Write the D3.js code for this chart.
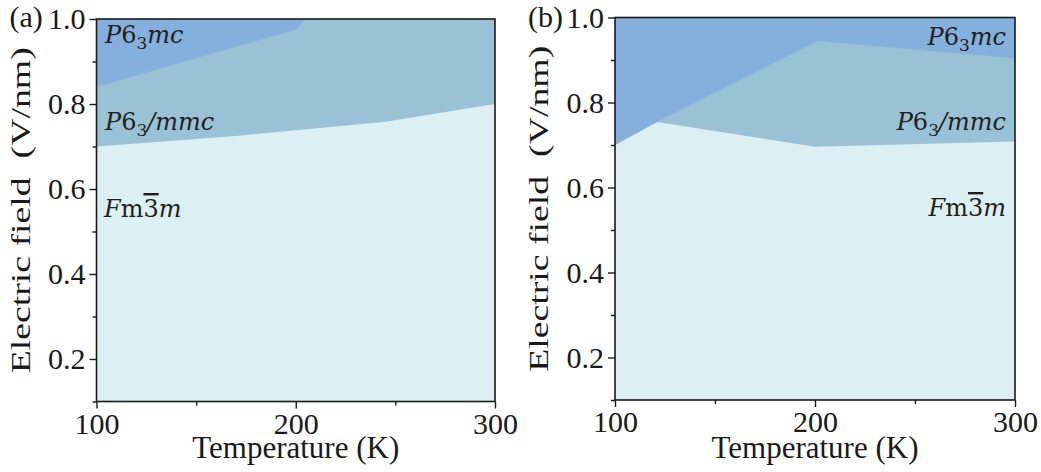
<!DOCTYPE html>
<html lang="en">
<head>
    <title>Phase diagram</title>
    <script src="https://d3js.org/d3.v7.min.js"></script>
    <style>
        body { margin: 0; background: #fff; }
        svg { display: block; }
        .tick text { font-family: "Liberation Serif", "Times New Roman", serif; font-size: 30px; fill: #1a1a1a; }
        .tick line { stroke: #1a1a1a; stroke-width: 1.4; }
        .axis-title { font-family: "Liberation Serif", "Times New Roman", serif; fill: #1a1a1a; }
        .phase { font-family: "DejaVu Serif", serif; font-size: 24px; fill: #231f20; }
    </style>
</head>
<body>
<svg id="chart" width="1041" height="472"></svg>
<script>
// axis ticks
const tempMajor = [100, 200, 300];
const tempMinor = [150, 250];
const fieldMajor = [0.2, 0.4, 0.6, 0.8, 1.0];
const fieldMinor = [0.1, 0.3, 0.5, 0.7, 0.9];

// panel (a) phase boundaries
const aLowT = [100, 170, 245, 300];
const aLowE = [0.70, 0.725, 0.758, 0.80];
const aUpT = [100, 200, 205];
const aUpE = [0.84, 0.975, 1.0];

// panel (b) phase boundaries
const bLowT = [100, 121, 200, 300];
const bLowE = [0.70, 0.754, 0.696, 0.708];
const bUpT = [100, 121, 201, 300];
const bUpE = [0.70, 0.754, 0.945, 0.904];

const colDark = "#85afdc";
const colMid = "#9ac2d7";
const colLight = "#dceff3";

const svg = d3.select("#chart");

function drawPanel(opt) {
    const x = d3.scaleLinear().domain([100, 300]).range([opt.left, opt.right]);
    const y = d3.scaleLinear().domain([0.1, 1.0]).range([opt.bottom, opt.top]);
    const g = svg.append("g");

    // background = Fm-3m region
    g.append("rect")
        .attr("x", x(100)).attr("y", y(1.0))
        .attr("width", x(300) - x(100))
        .attr("height", y(0.1) - y(1.0))
        .attr("fill", colLight);

    const area = d3.area()
        .x(d => x(d[0]))
        .y0(y(1.0))
        .y1(d => y(d[1]));

    g.append("path")
        .datum(d3.zip(opt.lowT, opt.lowE))
        .attr("d", area)
        .attr("fill", colMid);
    g.append("path")
        .datum(d3.zip(opt.upT, opt.upE))
        .attr("d", area)
        .attr("fill", colDark);

    // axes
    const fmt = d3.format(".1f");
    g.append("g")
        .attr("transform", "translate(0," + y(0.1) + ")")
        .call(d3.axisBottom(x).tickValues(tempMinor).tickSize(4).tickFormat(""))
        .call(a => a.select(".domain").remove());
    g.append("g")
        .attr("transform", "translate(0," + y(0.1) + ")")
        .call(d3.axisBottom(x).tickValues(tempMajor).tickSize(7).tickPadding(4))
        .call(a => a.select(".domain").remove());
    g.append("g")
        .attr("transform", "translate(" + x(100) + ",0)")
        .call(d3.axisLeft(y).tickValues(fieldMinor).tickSize(4).tickFormat(""))
        .call(a => a.select(".domain").remove());
    g.append("g")
        .attr("transform", "translate(" + x(100) + ",0)")
        .call(d3.axisLeft(y).tickValues(fieldMajor).tickSize(7).tickPadding(4).tickFormat(fmt))
        .call(a => a.select(".domain").remove());
    g.selectAll(".tick text").attr("fill", "#1a1a1a");

    // frame
    g.append("rect")
        .attr("x", x(100)).attr("y", y(1.0))
        .attr("width", x(300) - x(100))
        .attr("height", y(0.1) - y(1.0))
        .attr("fill", "none")
        .attr("stroke", "#1a1a1a")
        .attr("stroke-width", 1.6);

    // titles
    g.append("text")
        .attr("class", "axis-title")
        .attr("x", (x(100) + x(300)) / 2)
        .attr("y", 458)
        .attr("text-anchor", "middle")
        .attr("font-size", 31)
        .text("Temperature (K)");
    g.append("text")
        .attr("class", "axis-title")
        .attr("transform", "translate(" + (x(100) - 67) + "," + ((y(0.1) + y(1.0)) / 2) + ") rotate(-90)")
        .attr("text-anchor", "middle")
        .attr("font-size", 27)
        .attr("textLength", 326)
        .attr("lengthAdjust", "spacingAndGlyphs")
        .text("Electric field\u00a0 (V/nm)");
    g.append("text")
        .attr("class", "axis-title")
        .attr("x", x(100) - 87)
        .attr("y", 27)
        .attr("font-size", 30)
        .text(opt.tag);

    // phase labels
    opt.labels.forEach(l => {
        const t = g.append("text")
            .attr("class", "phase")
            .attr("x", l.x)
            .attr("y", l.y)
            .attr("text-anchor", l.anchor);
        l.parts.forEach(p => {
            const s = t.append("tspan").text(p[0]);
            if (p[1] === "i") s.attr("font-style", "italic");
            if (p[1] === "sub") s.attr("font-size", 17).attr("dy", 6);
            if (p[1] === "bar") s.style("text-decoration", "overline");
            if (p[2]) s.attr("dy", p[2]);
        });
    });
}

const p63mc = [["P", "i"], ["6"], ["3", "sub"], ["mc", "i", -6]];
const p63mmc = [["P", "i"], ["6"], ["3", "sub"], ["/mmc", "i", -6]];
const fm3m = [["F", "i"], ["m"], ["3", "bar"], ["m", "i"]];

drawPanel({
    left: 96.5, right: 495, top: 19, bottom: 401.5,
    lowT: aLowT, lowE: aLowE, upT: aUpT, upE: aUpE, tag: "(a)",
    labels: [
        {x: 105, y: 43, anchor: "start", parts: p63mc},
        {x: 105, y: 130, anchor: "start", parts: p63mmc},
        {x: 104, y: 217, anchor: "start", parts: fm3m}
    ]
});
drawPanel({
    left: 615, right: 1015, top: 17.5, bottom: 400,
    lowT: bLowT, lowE: bLowE, upT: bUpT, upE: bUpE, tag: "(b)",
    labels: [
        {x: 1006, y: 45, anchor: "end", parts: p63mc},
        {x: 1006, y: 130, anchor: "end", parts: p63mmc},
        {x: 1006, y: 216, anchor: "end", parts: fm3m}
    ]
});
</script>
</body>
</html>
